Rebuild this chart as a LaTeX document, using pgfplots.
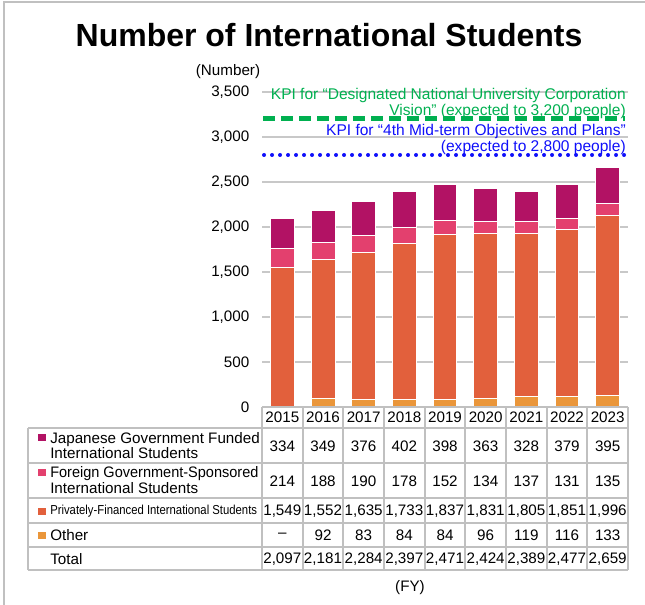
\documentclass[border=0pt]{standalone}
\usepackage{fontspec}
\setmainfont{Liberation Sans}
\usepackage{graphicx}
\usepackage{pgfplots}
\pgfplotsset{compat=1.18}
\usepackage{pgfplotstable}

\definecolor{cJap}{RGB}{178,18,100}
\definecolor{cFor}{RGB}{227,64,110}
\definecolor{cPri}{RGB}{226,96,60}
\definecolor{cOth}{RGB}{234,150,58}
\definecolor{kpig}{RGB}{0,176,80}
\definecolor{kpib}{RGB}{15,15,250}
\definecolor{gridc}{RGB}{200,200,200}
\definecolor{tabc}{RGB}{192,192,192}

\newcommand\fs{\fontsize{11.4}{11.25}\selectfont}
\pgfkeys{/pgf/number format/.cd, 1000 sep={,}, assume math mode=true}

\pgfplotstableread{
x other private foreign japanese
0 0 1549 214 334
1 92 1552 188 349
2 83 1635 190 376
3 84 1733 178 402
4 84 1837 152 398
5 96 1831 134 363
6 119 1805 137 328
7 116 1851 131 379
8 133 1996 135 395
}\students

\begin{document}
\begin{tikzpicture}
\begin{scope}[x=0.75pt,y=-0.75pt]
\path[use as bounding box] (0,0) rectangle (645,605);
\draw[tabc, line width=1.2pt] (4,605) -- (4,2) -- (645,2);
\node[font=\fontsize{24}{28}\selectfont\bfseries] at (329,35) {Number of International Students};
\node[font=\fs] at (228,72) {(Number)};
\end{scope}

\begin{axis}[
 at={(196.5pt,-305.25pt)}, anchor=south west,
 scale only axis, width=274.5pt, height=236.25pt,
 xmin=-0.5, xmax=8.5, ymin=0, ymax=3500,
 ytick={0,500,...,3500},
 xtick=\empty,
 axis line style={draw=none},
 major tick length=0pt,
 ymajorgrids, grid style={gridc, line width=1.5pt},
 scaled y ticks=false,
 yticklabel style={xshift=-6pt},
 tick label style={font=\fs},
 ybar stacked, bar width=0.59,
 clip=false,
]
\addplot[fill=cOth, draw=white, line width=0.75pt] table[x=x,y=other]{\students};
\addplot[fill=cPri, draw=white, line width=0.75pt] table[x=x,y=private]{\students};
\addplot[fill=cFor, draw=white, line width=0.75pt] table[x=x,y=foreign]{\students};
\addplot[fill=cJap, draw=white, line width=0.75pt] table[x=x,y=japanese]{\students};
\end{axis}

\begin{axis}[
 at={(196.5pt,-305.25pt)}, anchor=south west,
 scale only axis, width=274.5pt, height=236.25pt,
 xmin=-0.5, xmax=8.5, ymin=0, ymax=3500,
 hide axis, clip=false,
]
\addplot[kpig, line width=3.75pt, dash pattern=on 9pt off 4.5pt] coordinates {(-0.47,3200) (8.43,3200)};
\addplot[kpib, line width=3pt, line cap=round, dash pattern=on 0pt off 6pt] coordinates {(-0.45,2800) (8.43,2800)};
\end{axis}

\begin{scope}[x=0.75pt,y=-0.75pt]
% KPI texts
\node[anchor=east, text=kpig, align=right, font=\fontsize{11.65}{10.5}\selectfont, inner sep=0pt] at (626,103.5) {KPI for “Designated National University Corporation\\Vision” (expected to 3,200 people)};
\node[anchor=east, text=kpib, align=right, font=\fontsize{11.65}{10.5}\selectfont, inner sep=0pt] at (626,139.5) {KPI for “4th Mid-term Objectives and Plans”\\(expected to 2,800 people)};
% table lines
\draw[tabc, line width=1.5pt] (262,407) -- (628,407);
\foreach \yy in {428,463,498,523,547,570} \draw[tabc, line width=1.5pt] (28,\yy) -- (628,\yy);
\draw[tabc, line width=1.5pt] (28,428) -- (28,570);
\foreach \k in {0,...,9} \draw[tabc, line width=1.5pt] ({262+\k*40.667},407) -- ({262+\k*40.667},570);
% legend squares
\fill[cJap] (38,433.5) rectangle (45.5,441);
\fill[cFor] (38,468.5) rectangle (45.5,476);
\fill[cPri] (38,507.5) rectangle (45.5,515);
\fill[cOth] (38,531.5) rectangle (45.5,539);
% row labels
\node[anchor=west, align=left, font=\fontsize{11.4}{11.25}\selectfont, inner sep=0pt] at (50,445.5) {Japanese Government Funded\\International Students};
\node[anchor=west, align=left, inner sep=0pt] at (50,480.5) {\scalebox{0.955}[1]{\fontsize{11.4}{11.25}\selectfont Foreign Government-Sponsored}\\\fontsize{11.4}{11.25}\selectfont International Students};
\node[anchor=west, inner sep=0pt] at (50,511) {\scalebox{0.87}[1]{\fontsize{9.75}{11}\selectfont Privately-Financed International Students}};
\node[anchor=west, font=\fs, inner sep=0pt] at (50,535.5) {Other};
\node[anchor=west, font=\fs, inner sep=0pt] at (50,559) {Total};
% years
\foreach \yr [count=\i] in {2015,...,2023} \node[font=\fs] at ({262+(\i-0.5)*40.667},417.5) {\yr};
\foreach \v [count=\i] in {334,349,376,402,398,363,328,379,395} \node[font=\fs] at ({262+(\i-0.5)*40.667},446) {\v};
\foreach \v [count=\i] in {214,188,190,178,152,134,137,131,135} \node[font=\fs] at ({262+(\i-0.5)*40.667},481) {\v};
\foreach \v [count=\i] in {1549,1552,1635,1733,1837,1831,1805,1851,1996} \node[font=\fs] at ({262+(\i-0.5)*40.667},511) {\pgfmathprintnumber{\v}};
\node[font=\fs] at ({262+0.5*40.667},535.5) {–};
\foreach \v [count=\i from 2] in {92,83,84,84,96,119,116,133} \node[font=\fs] at ({262+(\i-0.5)*40.667},535.5) {\v};
\foreach \v [count=\i] in {2097,2181,2284,2397,2471,2424,2389,2477,2659} \node[font=\fs] at ({262+(\i-0.5)*40.667},559) {\pgfmathprintnumber{\v}};
\node[font=\fs] at (410,588) {(FY)};
\end{scope}
\end{tikzpicture}
\end{document}
